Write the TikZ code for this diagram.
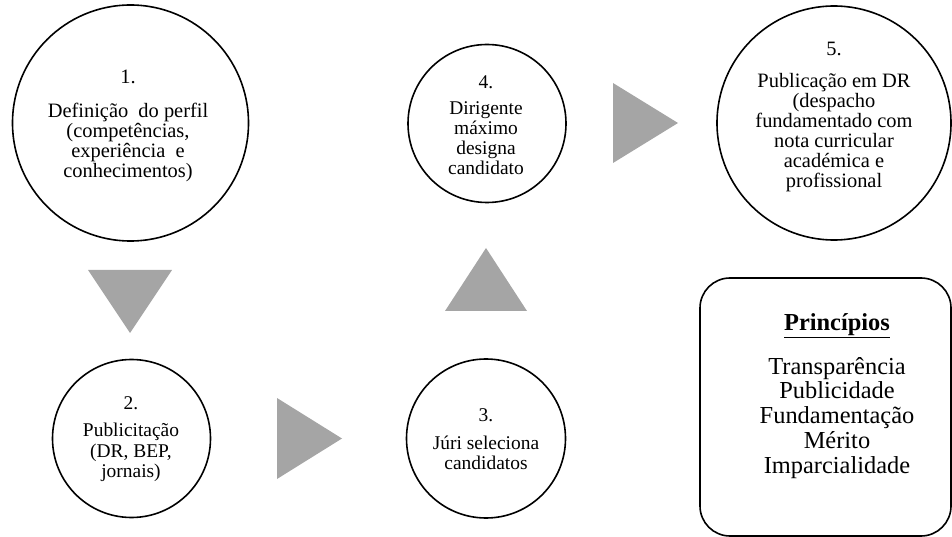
\documentclass[tikz,border=0pt]{standalone}
\usepackage{fontspec}
\setmainfont{Liberation Serif}
\definecolor{trigray}{HTML}{A5A5A5}
\begin{document}
\begin{tikzpicture}[x=1bp,y=-1bp,
  circ/.style={circle, draw, line width=1.6bp, inner sep=0pt},
  txt/.style={align=center, inner sep=0pt, font=\fontsize{19.5}{20}\selectfont},
  txtbig/.style={align=center, inner sep=0pt, font=\fontsize{20.5}{20}\selectfont},
  boxtxt/.style={align=center, inner sep=0pt, font=\fontsize{24.5}{25}\selectfont},
  tri/.style={fill=trigray, draw=none}]
\useasboundingbox (0,0) rectangle (952,537);

% circles
\node[circ, minimum size=236bp] (c1) at (130.5,123) {};
\node[circ, minimum size=158bp] (c2) at (131.5,438.5) {};
\node[circ, minimum size=159bp] (c3) at (486,438.5) {};
\node[circ, minimum size=158bp] (c4) at (487,123.5) {};
\node[circ, minimum size=234bp] (c5) at (834,123) {};

% texts
\node[txtbig] (t1) at (128,126) {1.\\[14bp]Definição\ \ do perfil\\(competências,\\experiência\ \ e\\conhecimentos)};
\node[txt] (t2) at (131,439) {2.\\[7bp]Publicitação\\[1bp](DR, BEP,\\jornais)};
\node[txt] (t3) at (486,439) {3.\\[8bp]Júri seleciona\\candidatos};
\node[txt] (t4) at (486,125) {4.\\[6bp]Dirigente\\máximo\\designa\\candidato};
\node[txtbig] (t5) at (834,117) {5.\\[12bp]Publicação em DR\\(despacho\\fundamentado com\\nota curricular\\académica e\\profissional};

% principles box
\node[draw, line width=1.6bp, rounded corners=30bp, minimum width=251bp, minimum height=258bp, inner sep=0pt] (pbox) at (825.5,407) {};
\node[boxtxt] (ptxt) at (837,396) {\underline{\textbf{Princípios}}\\[19bp]Transparência\\Publicidade\\Fundamentação\\Mérito\\Imparcialidade};

% triangles
\fill[tri] (88,270) -- (172,270) -- (130,333) -- cycle;
\fill[tri] (277,398) -- (277,479) -- (342,438.5) -- cycle;
\fill[tri] (445,311) -- (527,311) -- (486,248) -- cycle;
\fill[tri] (613,83) -- (613,163) -- (678,123) -- cycle;
\end{tikzpicture}
\end{document}
